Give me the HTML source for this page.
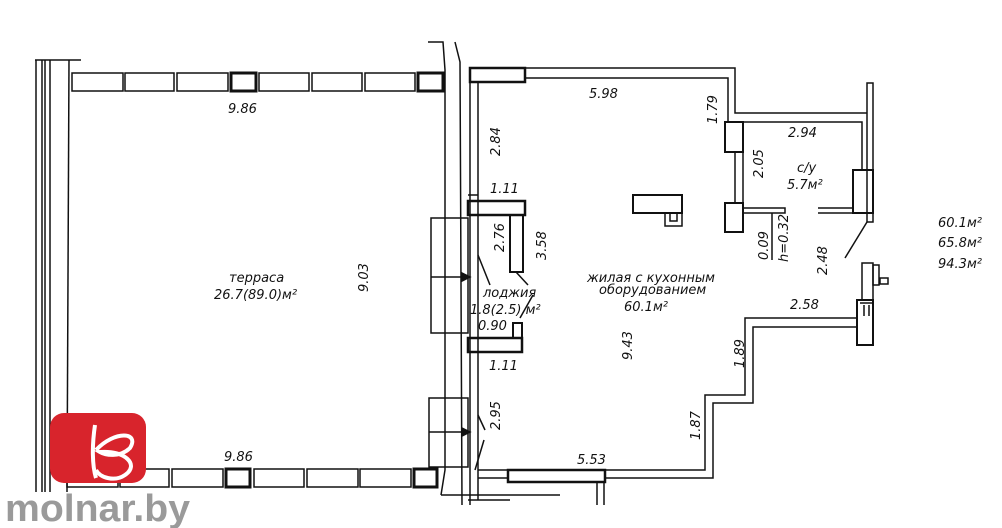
<!DOCTYPE html>
<html><head><meta charset="utf-8"><style>
body{margin:0;background:#fff;width:1002px;height:528px;overflow:hidden}
svg{display:block}
text{font-family:"DejaVu Sans","Liberation Sans",sans-serif;font-style:italic;font-size:13px;fill:#111}
</style></head><body>
<svg width="1002" height="528" viewBox="0 0 1002 528" xmlns="http://www.w3.org/2000/svg">
<g fill="none" stroke="#111" stroke-width="1.5">
<line x1="35" y1="60" x2="81" y2="60"/>
<line x1="36" y1="60" x2="36" y2="492"/><line x1="42" y1="60" x2="42" y2="492"/>
<line x1="45" y1="60" x2="45" y2="492"/><line x1="50" y1="60" x2="50" y2="492"/>
<line x1="69" y1="60" x2="67" y2="492"/>
<rect x="72" y="73" width="51" height="18"/><rect x="125" y="73" width="49" height="18"/>
<rect x="177" y="73" width="51" height="18"/><rect x="231" y="73" width="25" height="18" stroke-width="3"/>
<rect x="259" y="73" width="50" height="18"/><rect x="312" y="73" width="50" height="18"/>
<rect x="365" y="73" width="50" height="18"/><rect x="418" y="73" width="25" height="18" stroke-width="3"/>
<rect x="67" y="469" width="51" height="18"/><rect x="120" y="469" width="49" height="18"/>
<rect x="172" y="469" width="51" height="18"/><rect x="226" y="469" width="24" height="18" stroke-width="3"/>
<rect x="254" y="469" width="50" height="18"/><rect x="307" y="469" width="51" height="18"/>
<rect x="360" y="469" width="51" height="18"/><rect x="414" y="469" width="23" height="18" stroke-width="3"/>
<polyline points="428,42 443,42 445,70 445,470 441,495"/>
<line x1="441" y1="495" x2="560" y2="495"/>
<polyline points="455,42 460,62 462,505"/>
<line x1="470" y1="68" x2="470" y2="505"/><line x1="478" y1="82" x2="478" y2="500"/>
<line x1="468" y1="500" x2="510" y2="500"/>
<polyline points="525,68 735,68 735,113 867,113"/>
<polyline points="525,78 728,78 728,122 862,122 862,170"/>
<rect x="470" y="68" width="55" height="14" stroke-width="2.5"/>
<rect x="867" y="83" width="6" height="139"/>
<rect x="853" y="170" width="20" height="43" stroke-width="2"/>
<line x1="818" y1="208" x2="853" y2="208"/><line x1="818" y1="213" x2="853" y2="213"/>
<line x1="867" y1="222" x2="845" y2="258"/>
<rect x="725" y="122" width="18" height="30" stroke-width="2"/>
<rect x="735" y="152" width="8" height="51"/>
<rect x="725" y="203" width="18" height="29" stroke-width="2"/>
<polyline points="743,208 785,208 785,213 743,213"/>
<line x1="772" y1="213" x2="772" y2="260"/>
<rect x="633" y="195" width="49" height="18" stroke-width="2"/>
<rect x="665" y="213" width="17" height="13"/><rect x="670" y="213" width="7" height="8"/>
<rect x="468" y="201" width="57" height="14" stroke-width="2.5"/>
<rect x="510" y="215" width="13" height="57" stroke-width="2"/>
<line x1="468" y1="195" x2="478" y2="195"/>
<rect x="468" y="338" width="54" height="14" stroke-width="2.5"/>
<rect x="513" y="323" width="9" height="15" stroke-width="2"/>
<line x1="516" y1="272" x2="528" y2="285"/><line x1="533" y1="295" x2="520" y2="318"/>
<line x1="478" y1="255" x2="490" y2="285"/>
<rect x="431" y="218" width="37" height="115"/><line x1="431" y1="277" x2="462" y2="277"/>
<polygon points="462,273 470,277 462,281" fill="#111"/>
<rect x="429" y="398" width="39" height="69"/><line x1="429" y1="432" x2="462" y2="432"/>
<polygon points="462,428 470,432 462,436" fill="#111"/>
<line x1="478" y1="415" x2="485" y2="430"/><line x1="484" y1="440" x2="475" y2="470"/>
<polyline points="857,318 745,318 745,395 705,395 705,470 600,470"/>
<polyline points="857,327 753,327 753,403 713,403 713,478 605,478"/>
<rect x="508" y="470" width="97" height="12" stroke-width="2.5"/>
<line x1="478" y1="470" x2="508" y2="470"/><line x1="478" y1="478" x2="508" y2="478"/>
<rect x="857" y="300" width="16" height="45" stroke-width="2"/>
<rect x="862" y="263" width="11" height="37"/>
<rect x="873" y="265" width="6" height="20"/>
<rect x="880" y="278" width="8" height="6"/>
<line x1="860" y1="303" x2="873" y2="303"/><line x1="864" y1="305" x2="864" y2="316"/><line x1="869" y1="305" x2="869" y2="316"/>
<line x1="597" y1="482" x2="597" y2="505"/><line x1="604" y1="482" x2="604" y2="505"/>
</g>
<text x="228" y="113">9.86</text>
<text x="224" y="461">9.86</text>
<text x="229" y="282" font-size="14">терраса</text>
<text x="214" y="299" font-size="14">26.7(89.0)м²</text>
<text transform="translate(368,292) rotate(-90)">9.03</text>
<text x="589" y="98">5.98</text>
<text transform="translate(717,124) rotate(-90)">1.79</text>
<text transform="translate(500,156) rotate(-90)">2.84</text>
<text x="490" y="193">1.11</text>
<text transform="translate(504,252) rotate(-90)">2.76</text>
<text transform="translate(546,260) rotate(-90)">3.58</text>
<text x="483" y="297">лоджия</text>
<text x="470" y="314">1.8(2.5) м²</text>
<text x="478" y="330">0.90</text>
<text x="489" y="370">1.11</text>
<text transform="translate(500,430) rotate(-90)">2.95</text>
<text x="587" y="282">жилая с кухонным</text>
<text x="599" y="294">оборудованием</text>
<text x="624" y="311">60.1м²</text>
<text transform="translate(632,360) rotate(-90)">9.43</text>
<text transform="translate(744,368) rotate(-90)">1.89</text>
<text transform="translate(700,440) rotate(-90)">1.87</text>
<text x="577" y="464">5.53</text>
<text x="788" y="137">2.94</text>
<text transform="translate(763,178) rotate(-90)">2.05</text>
<text x="797" y="172">с/у</text>
<text x="787" y="189">5.7м²</text>
<text transform="translate(768,260) rotate(-90)">0.09</text>
<text transform="translate(788,262) rotate(-90)">h=0.32</text>
<text transform="translate(827,275) rotate(-90)">2.48</text>
<text x="790" y="309">2.58</text>
<text x="938" y="227">60.1м²</text>
<text x="938" y="247">65.8м²</text>
<text x="938" y="268">94.3м²</text>
<rect x="50" y="413" width="96" height="70" rx="14" fill="#d8242c"/>
<path d="M95 425 C92 445 92 465 96 478 M96 450 C115 430 140 432 130 448 C120 458 105 455 100 452 C125 450 140 465 125 475 C115 482 100 478 96 470" fill="none" stroke="#fff" stroke-width="4"/>
<text x="5" y="521" textLength="185" lengthAdjust="spacingAndGlyphs" style="font-family:'Liberation Sans',sans-serif;font-style:normal;font-weight:bold;font-size:38px;fill:#9a9a9a">molnar.by</text>
</svg>
</body></html>
